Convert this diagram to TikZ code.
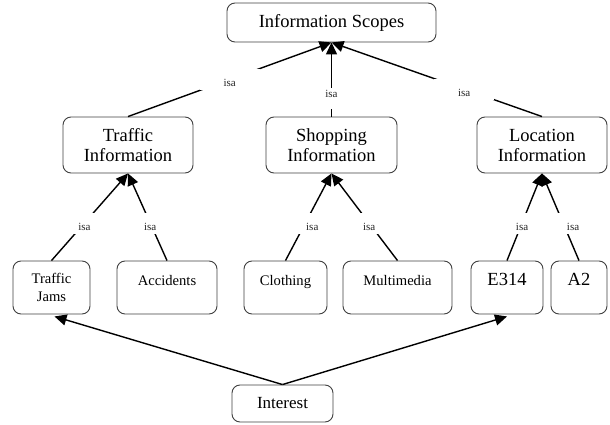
\documentclass[tikz,border=0pt]{standalone}
\usepackage{fontspec}
\setmainfont{Liberation Serif}
\usetikzlibrary{arrows.meta}
\begin{document}
\begin{tikzpicture}[x=1pt,y=-1pt,
  box/.style={draw=black!75, line width=0.9pt, rounded corners=8pt, fill=white,
    align=center, inner sep=0pt},
  bigtext/.style={font=\fontsize{18.5}{20}\selectfont},
  smalltext/.style={font=\fontsize{14.6}{18}\selectfont},
  lifted/.style={text height=11pt, text depth=16pt},
  isaedge/.style={draw=black, line width=1.4pt, -{Triangle[length=12pt,width=11pt]}},
  isa/.style={fill=white, inner sep=0pt, minimum width=60pt, minimum height=21pt,
    font=\fontsize{11}{12}\selectfont, text=black!85},
  isalow/.style={text height=15pt, text depth=0pt},
  isahigh/.style={text height=7pt, text depth=8pt}
]
\useasboundingbox (0,0) rectangle (610,425);

% top concept
\node[box, bigtext, minimum width=209pt, minimum height=39pt] (scopes) at (331.5,22.5) {Information Scopes};

% second level
\node[box, bigtext, minimum width=130pt, minimum height=56pt] (traffic) at (128,145) {Traffic\\Information};
\node[box, bigtext, minimum width=131pt, minimum height=56pt] (shopping) at (331.5,145) {Shopping\\Information};
\node[box, bigtext, minimum width=130pt, minimum height=56pt] (location) at (542,145) {Location\\Information};

% leaves
\node[box, smalltext, minimum width=77pt, minimum height=53pt] (jams) at (51.5,287.5) {Traffic\\Jams};
\node[box, smalltext, lifted, minimum width=100pt, minimum height=53pt] (accidents) at (167,287.5) {Accidents};
\node[box, smalltext, lifted, minimum width=83pt, minimum height=53pt] (clothing) at (285.5,287.5) {Clothing};
\node[box, smalltext, lifted, minimum width=109pt, minimum height=53pt] (multimedia) at (397.5,287.5) {Multimedia};
\node[box, bigtext, lifted, minimum width=72pt, minimum height=53pt] (e314) at (507,287.5) {E314};
\node[box, bigtext, lifted, minimum width=56pt, minimum height=53pt] (a2) at (579,287.5) {A2};

% interest
\node[box, font=\fontsize{17}{19}\selectfont, minimum width=101pt, minimum height=37pt] (interest) at (282.5,403.5) {Interest};

% isa links to the top concept
\draw[isaedge] (traffic.north) -- node[isa, isalow, pos=0.5] (isa1) {isa} (scopes.south);
\draw[isaedge] (shopping.north) -- node[isa, isahigh, pos=0.25] (isa2) {isa} (scopes.south);
\draw[isaedge] (location.north) -- node[isa, isalow, pos=0.37] (isa3) {isa\hspace{7pt}} (scopes.south);

% isa links to the second level
\draw[isaedge] (jams.north) -- node[isa, isalow, pos=0.43] (isa4) {isa\hspace{15pt}} (traffic.south);
\draw[isaedge] (accidents.north) -- node[isa, isalow, pos=0.43] (isa5) {isa\hspace{8pt}} (traffic.south);
\draw[isaedge] (clothing.north) -- node[isa, isalow, pos=0.43] (isa6) {\hspace{14pt}isa} (shopping.south);
\draw[isaedge] (multimedia.north) -- node[isa, isalow, pos=0.43] (isa7) {isa\hspace{20pt}} (shopping.south);
\draw[isaedge] (e314.north) -- node[isa, isalow, pos=0.43] (isa8) {isa\hspace{8pt}} (location.south);
\draw[isaedge] (a2.north) -- node[isa, isalow, pos=0.43] (isa9) {\hspace{20pt}isa} (location.south);

% interest links
\draw[isaedge] (interest.north) -- ([xshift=3pt,yshift=-2pt]jams.south);
\draw[isaedge] (interest.north) -- ([yshift=-2pt]e314.south);
\end{tikzpicture}
\end{document}
